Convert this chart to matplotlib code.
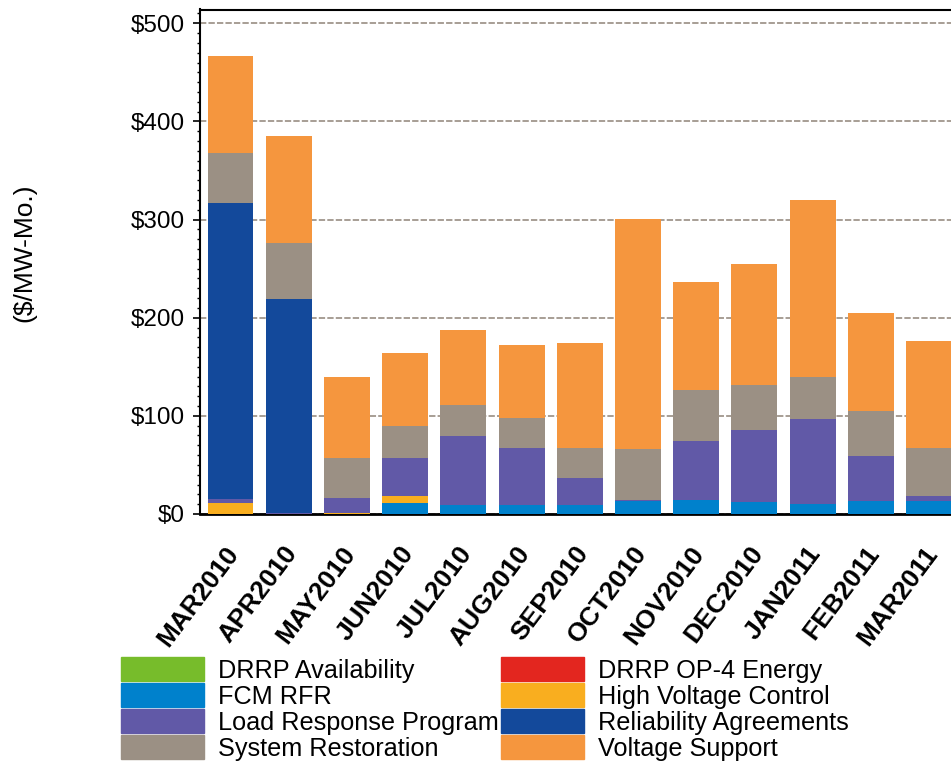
import matplotlib
matplotlib.use('Agg')
from matplotlib import pyplot as plt
from matplotlib.patches import Rectangle
from matplotlib.ticker import MultipleLocator, FuncFormatter
from matplotlib.transforms import ScaledTranslation
import numpy as np

plt.rcParams['font.family'] = ['Liberation Sans', 'DejaVu Sans']

# Months
months = ['MAR2010', 'APR2010', 'MAY2010', 'JUN2010', 'JUL2010', 'AUG2010', 'SEP2010',
          'OCT2010', 'NOV2010', 'DEC2010', 'JAN2011', 'FEB2011', 'MAR2011']

# Values ($/MW-Mo.), stacked bottom to top
drrp_avail = [0, 0, 0, 0, 0, 0, 0, 0, 0, 0, 0, 0, 0]
drrp_op4 = [0, 0, 0, 0, 0, 0, 0, 0, 0, 0, 0, 0, 0]
fcm_rfr = [0, 0, 0, 11.2, 8.9, 8.9, 8.9, 13.5, 14.6, 12.5, 10.5, 13.2, 13.2]
hv_control = [11.2, 0, 1.5, 7.4, 0, 0, 0, 0, 0, 0, 0, 0, 0]
load_resp = [4.1, 1, 15.1, 38.4, 70.5, 58.3, 27.8, 1, 59.7, 73, 86.2, 45.8, 5.4]
reliability = [301.4, 218, 0, 0, 0, 0, 0, 0, 0, 0, 0, 0, 0]
sys_restore = [50.9, 57, 40.4, 32.6, 31.6, 30.6, 30.5, 51.7, 52, 45.9, 42.8, 45.9, 48.6]
volt_support = [98.8, 109, 82.5, 74.4, 76.4, 74.2, 106.8, 234.2, 110, 123.2, 180.3, 99.8, 109]

# stacking order in the bars
stack = [
    (drrp_avail, '#77BC2B'),
    (drrp_op4, '#E3261F'),
    (fcm_rfr, '#0081CC'),
    (hv_control, '#F9AE1F'),
    (load_resp, '#6159A7'),
    (reliability, '#13499B'),
    (sys_restore, '#9B9084'),
    (volt_support, '#F5963E'),
]

# legend order (column by column)
legend_items = [
    ('DRRP Availability', '#77BC2B'),
    ('FCM RFR', '#0081CC'),
    ('Load Response Program', '#6159A7'),
    ('System Restoration', '#9B9084'),
    ('DRRP OP-4 Energy', '#E3261F'),
    ('High Voltage Control', '#F9AE1F'),
    ('Reliability Agreements', '#13499B'),
    ('Voltage Support', '#F5963E'),
]

W, H = 951, 764
fig = plt.figure(figsize=(W/100, H/100), dpi=100)
ax = fig.add_axes([200/W, 1-514/H, 764/W, (514-9.5)/H])

x = np.arange(len(months))
bottom = np.zeros(len(months))
for vals, col in stack:
    ax.bar(x, vals, 0.79, bottom=bottom, color=col, zorder=3)
    bottom += np.array(vals)

ax.set_xlim(-0.524, 12.6)
ax.set_ylim(0, 514)
ax.yaxis.set_major_locator(MultipleLocator(100))
ax.yaxis.set_minor_locator(MultipleLocator(10))
ax.yaxis.set_major_formatter(FuncFormatter(lambda v, p: '${:.0f}'.format(v)))
ax.grid(axis='y', color='#A0968C', linewidth=1.3, linestyle=(0, (3.5, 1.2)), zorder=1)

ax.tick_params(axis='y', which='major', length=5, width=1.2, labelsize=17.5, pad=6)
ax.tick_params(axis='y', which='minor', length=2.5, width=1)
ax.set_xticks(x)
ax.set_xticklabels(months, rotation=53, ha='right', va='top', rotation_mode='anchor',
                   fontsize=19, fontweight='bold')
ax.tick_params(axis='x', length=0, pad=20)
shift = ScaledTranslation(-6/100, 0, fig.dpi_scale_trans)
for lab in ax.get_xticklabels():
    lab.set_transform(lab.get_transform() + shift)

ax.spines['right'].set_visible(False)
ax.spines['left'].set_linewidth(1.5)
ax.spines['top'].set_linewidth(1.5)
ax.spines['bottom'].set_linewidth(2)

fig.text(24/W, 1-253/H, '($/MW-Mo.)', rotation=90, fontsize=19, ha='center', va='center')

# legend
for i, (name, col) in enumerate(legend_items):
    c, r = i // 4, i % 4
    px = [121, 501][c]
    tx = [218, 598][c]
    top = 657 + 26*r
    fig.add_artist(Rectangle((px/W, 1-(top+24)/H), 83/W, 24/H,
                             transform=fig.transFigure, color=col, zorder=1))
    fig.text(tx/W, 1-(top+21)/H, name, fontsize=18.2, ha='left', va='baseline', zorder=2)

plt.savefig('out.png', dpi=100)
